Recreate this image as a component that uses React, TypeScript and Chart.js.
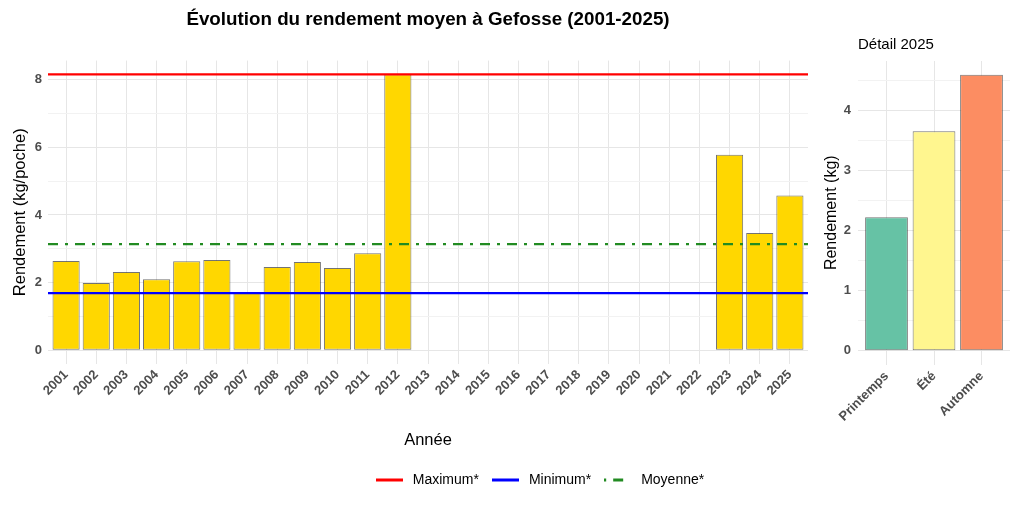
import React, { useEffect, useRef } from "react";
import { Chart, registerables } from "chart.js";

Chart.register(...registerables);
Chart.defaults.font.family = "'Liberation Sans', Arial, sans-serif";

// ---- Data ----
const years = [
  2001, 2002, 2003, 2004, 2005, 2006, 2007, 2008, 2009, 2010, 2011, 2012, 2013,
  2014, 2015, 2016, 2017, 2018, 2019, 2020, 2021, 2022, 2023, 2024, 2025,
];
const yieldValues: (number | null)[] = [
  2.64, 1.99, 2.31, 2.1, 2.63, 2.67, 1.69, 2.46, 2.61, 2.43, 2.87, 8.16, null,
  null, null, null, null, null, null, null, null, null, 5.78, 3.47, 4.58,
];
const refLabels = ["Maximum*", "Minimum*", "Moyenne*"];
const refValues = [8.16, 1.69, 3.14];
const refColors = ["#FF0000", "#0000FF", "#228B22"];
const refDashes = [[], [], [10, 7, 3, 7]];
const legendDashes = [[], [], [2, 7, 10, 100]];
const mainYTicks = [0, 1, 2, 3, 4, 5, 6, 7, 8];

const seasons = ["Printemps", "Été", "Automne"];
const seasonValues = [2.22, 3.65, 4.59];
const seasonColors = ["#66C2A5", "#FFF68F", "#FC8D62"];
const detailYTicks = [0, 0.5, 1, 1.5, 2, 2.5, 3, 3.5, 4, 4.5];

const TICK_COLOR = "#4d4d4d";
const GRID_MAJOR = "#e6e6e6";
const GRID_MINOR = "#f2f2f2";
const BAR_BORDER = "rgba(55,55,55,0.7)";

function legendGlyph(color: string, dash: number[]): HTMLCanvasElement {
  const c = document.createElement("canvas");
  c.width = 27;
  c.height = 5;
  const g = c.getContext("2d") as CanvasRenderingContext2D;
  g.strokeStyle = color;
  g.lineWidth = 3;
  g.setLineDash(dash);
  g.beginPath();
  g.moveTo(0, 2.5);
  g.lineTo(27, 2.5);
  g.stroke();
  return c;
}

function mainConfig(): any {
  const xMin = years[0] - 0.6;
  const xMax = years[years.length - 1] + 0.6;
  const top = Math.max(...(yieldValues.filter((v) => v !== null) as number[]), ...refValues);
  return {
    type: "bar",
    data: {
      datasets: [
        ...refValues.map((v, i) => ({
          type: "line",
          label: refLabels[i],
          data: [
            { x: xMin, y: v },
            { x: xMax, y: v },
          ],
          borderColor: refColors[i],
          backgroundColor: refColors[i],
          borderWidth: 2.2,
          borderDash: refDashes[i],
          pointRadius: 0,
          pointStyle: legendGlyph(refColors[i], legendDashes[i]),
        })),
        {
          type: "bar",
          label: "Rendement",
          data: years.map((yr, i) => ({ x: yr, y: yieldValues[i] })),
          backgroundColor: "#FFD700",
          borderColor: BAR_BORDER,
          borderWidth: 1,
          borderSkipped: false,
          categoryPercentage: 0.9,
          barPercentage: 1,
        },
      ],
    },
    options: {
      animation: false,
      responsive: false,
      events: [],
      layout: { padding: { left: 7, right: 0, top: 0, bottom: 15 } },
      plugins: {
        title: {
          display: true,
          text: "Évolution du rendement moyen à Gefosse (2001-2025)",
          fullSize: false,
          align: "center",
          color: "#000",
          font: { size: 18.8, weight: "bold" },
          padding: { top: 9, bottom: 29 },
        },
        legend: {
          display: true,
          position: "bottom",
          labels: {
            filter: (item: any) => item.datasetIndex < refLabels.length,
            usePointStyle: true,
            pointStyleWidth: 33,
            padding: 10,
            color: "#000",
            font: { size: 14 },
          },
        },
        tooltip: { enabled: false },
      },
      scales: {
        x: {
          type: "linear",
          min: xMin,
          max: xMax,
          offset: false,
          afterBuildTicks: (s: any) => {
            s.ticks = years.map((v) => ({ value: v }));
          },
          afterFit: (s: any) => {
            s.height = 99;
          },
          ticks: {
            autoSkip: false,
            minRotation: 45,
            maxRotation: 45,
            color: TICK_COLOR,
            font: { size: 13, weight: "bold" },
            padding: 3,
            callback: (v: any) => String(v),
          },
          grid: { color: GRID_MAJOR, drawTicks: false, offset: false },
          border: { display: false },
          title: {
            display: true,
            text: "Année",
            color: "#000",
            font: { size: 16.5 },
            padding: { top: 0, bottom: 13 },
          },
        },
        y: {
          type: "linear",
          min: -0.05 * top,
          max: 1.05 * top,
          afterBuildTicks: (s: any) => {
            s.ticks = mainYTicks.map((v) => ({ value: v }));
          },
          afterFit: (s: any) => {
            s.width = 41;
          },
          ticks: {
            color: TICK_COLOR,
            font: { size: 13, weight: "bold" },
            padding: 6,
            callback: (v: any) => (v % 2 === 0 ? String(v) : ""),
          },
          grid: {
            drawTicks: false,
            color: (ctx: any) =>
              ctx.tick && ctx.tick.value % 2 === 0 ? GRID_MAJOR : GRID_MINOR,
          },
          border: { display: false },
          title: {
            display: true,
            text: "Rendement (kg/poche)",
            color: "#000",
            font: { size: 16.5 },
            padding: { top: 4, bottom: 4 },
          },
        },
        yR: {
          type: "linear",
          position: "right",
          display: true,
          afterFit: (s: any) => {
            s.width = 262;
          },
          ticks: { display: false },
          grid: { display: false },
          border: { display: false },
        },
      },
    },
  };
}

function detailConfig(): any {
  const top = Math.max(...seasonValues);
  return {
    type: "bar",
    data: {
      datasets: [
        {
          label: "Détail 2025",
          data: seasons.map((s, i) => ({ x: i, y: seasonValues[i] })),
          backgroundColor: seasonColors,
          borderColor: BAR_BORDER,
          borderWidth: 1,
          borderSkipped: false,
          categoryPercentage: 0.9,
          barPercentage: 1,
        },
      ],
    },
    options: {
      animation: false,
      responsive: false,
      events: [],
      layout: { padding: { left: 18, right: 14, top: 0, bottom: 0 } },
      plugins: {
        title: {
          display: true,
          text: "Détail 2025",
          fullSize: false,
          align: "start",
          color: "#000",
          font: { size: 15, weight: "normal" },
          padding: { top: 36, bottom: 7 },
        },
        legend: { display: false },
        tooltip: { enabled: false },
      },
      scales: {
        x: {
          type: "linear",
          min: -0.6,
          max: seasons.length - 1 + 0.6,
          offset: false,
          afterBuildTicks: (s: any) => {
            s.ticks = seasons.map((_, i) => ({ value: i }));
          },
          afterFit: (s: any) => {
            s.height = 147.5;
          },
          ticks: {
            autoSkip: false,
            minRotation: 45,
            maxRotation: 45,
            color: TICK_COLOR,
            font: { size: 13, weight: "bold" },
            padding: 4,
            callback: (v: any) => seasons[v] ?? "",
          },
          grid: { color: GRID_MAJOR, drawTicks: false, offset: false },
          border: { display: false },
        },
        y: {
          type: "linear",
          min: -0.05 * top,
          max: 1.05 * top,
          afterBuildTicks: (s: any) => {
            s.ticks = detailYTicks.map((v) => ({ value: v }));
          },
          afterFit: (s: any) => {
            s.width = 40;
          },
          ticks: {
            color: TICK_COLOR,
            font: { size: 13, weight: "bold" },
            padding: 7,
            callback: (v: any) => (Number.isInteger(v) ? String(v) : ""),
          },
          grid: {
            drawTicks: false,
            color: (ctx: any) =>
              ctx.tick && Number.isInteger(ctx.tick.value) ? GRID_MAJOR : GRID_MINOR,
          },
          border: { display: false },
          title: {
            display: true,
            text: "Rendement (kg)",
            color: "#000",
            font: { size: 16 },
            padding: { top: 4, bottom: 4 },
          },
        },
      },
    },
  };
}

export default function App() {
  const mainRef = useRef<HTMLCanvasElement>(null);
  const detailRef = useRef<HTMLCanvasElement>(null);

  useEffect(() => {
    const main = new Chart(mainRef.current as HTMLCanvasElement, mainConfig());
    const detail = new Chart(detailRef.current as HTMLCanvasElement, detailConfig());
    return () => {
      main.destroy();
      detail.destroy();
    };
  }, []);

  return (
    <div
      style={{
        position: "fixed",
        left: 0,
        top: 0,
        width: 1024,
        height: 512,
        overflow: "hidden",
        background: "#ffffff",
      }}
    >
      <canvas
        ref={mainRef}
        width={1070}
        height={512}
        style={{ position: "absolute", left: 0, top: 0 }}
      />
      <canvas
        ref={detailRef}
        width={224}
        height={512}
        style={{ position: "absolute", left: 800, top: 0 }}
      />
    </div>
  );
}
